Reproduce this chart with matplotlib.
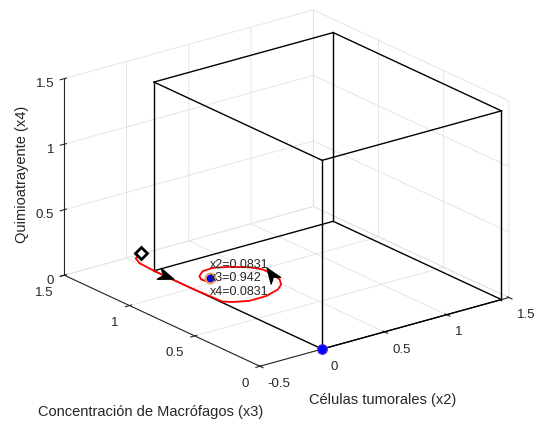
import numpy as np
import matplotlib
matplotlib.use('Agg')
import matplotlib.pyplot as plt
from matplotlib.markers import MarkerStyle
from matplotlib.path import Path
from matplotlib.transforms import Affine2D

plt.rcParams['font.family'] = ['Liberation Sans', 'DejaVu Sans']
plt.rcParams['axes.unicode_minus'] = False
plt.rcParams['grid.color'] = '#e2e2e2'
plt.rcParams['grid.linewidth'] = 0.6

# trayectoria (rojo) desde la condicion inicial hasta el equilibrio
traj_x2 = [0.0, 0.0, 0.01, 0.0, 0.0, 0.005, 0.024, 0.064, 0.121, 0.175, 0.204, 0.223,
           0.231, 0.233, 0.215, 0.175, 0.136, 0.100, 0.071, 0.060, 0.062, 0.0831]
traj_x3 = [1.39, 1.43, 1.41, 1.29, 1.0, 0.77, 0.71, 0.62, 0.544, 0.506, 0.509, 0.539,
           0.599, 0.677, 0.762, 0.878, 0.968, 1.011, 1.009, 0.986, 0.950, 0.942]
traj_x4 = [0.09, 0.03, 0.0, 0.0, 0.0, 0.005, 0.024, 0.064, 0.121, 0.175, 0.204, 0.223,
           0.231, 0.233, 0.215, 0.175, 0.136, 0.100, 0.071, 0.060, 0.062, 0.0831]

# caja (lineas negras)
cubo_x2 = [0.0, 1.44]
cubo_x3 = [0.0, 1.29]
cubo_x4 = [0.0, 1.44]

# puntos de equilibrio
eq_x2 = [0.0, 0.0831]
eq_x3 = [0.0, 0.942]
eq_x4 = [0.0, 0.0831]

# flechas de direccion
flecha_x2 = [0.0, 0.23]
flecha_x3 = [1.2, 0.61]
flecha_x4 = [0.0, 0.23]
flecha_ang = [-20, 125]

xticks = [-0.5, 0, 0.5, 1, 1.5]
yticks = [0, 0.5, 1, 1.5]
zticks = [0, 0.5, 1, 1.5]

fig = plt.figure(figsize=(5.38, 4.26), dpi=100)
ax = fig.add_axes([0.022, 0.045, 1.0, 1.0], projection='3d', proj_type='ortho',
                  computed_zorder=False)
ax.view_init(elev=21, azim=-127.6)
ax.set_box_aspect((1, 1.02, 0.67), zoom=1.13)

ax.set_xlim(-0.5, 1.5)
ax.set_ylim(0, 1.5)
ax.set_zlim(0, 1.5)

# aristas de la caja
for a in cubo_x3:
    for b in cubo_x4:
        ax.plot(cubo_x2, [a, a], [b, b], color='black', lw=1.0, zorder=1, clip_on=False)
for a in cubo_x2:
    for b in cubo_x4:
        ax.plot([a, a], cubo_x3, [b, b], color='black', lw=1.0, zorder=1, clip_on=False)
for a in cubo_x2:
    for b in cubo_x3:
        ax.plot([a, a], [b, b], cubo_x4, color='black', lw=1.0, zorder=1, clip_on=False)

ax.plot(traj_x2, traj_x3, traj_x4, color='red', lw=1.3, zorder=2)
ax.plot(traj_x2[:1], traj_x3[:1], traj_x4[:1], marker='D', ms=6, mfc='white',
        mec='black', mew=2, ls='none', zorder=3)

head = Path([(1, 0), (-1, 0.75), (-0.4, 0), (-1, -0.75), (1, 0)],
            [Path.MOVETO, Path.LINETO, Path.LINETO, Path.LINETO, Path.CLOSEPOLY])
for i in range(len(flecha_x2)):
    m = MarkerStyle(head, transform=Affine2D().rotate_deg(flecha_ang[i]))
    ax.plot([flecha_x2[i]], [flecha_x3[i]], [flecha_x4[i]], marker=m, ms=11,
            color='black', ls='none', zorder=3)

ax.plot(eq_x2[:1], eq_x3[:1], eq_x4[:1], 'o', ms=7, mfc='blue', mec='#5a2bd0',
        mew=0.8, zorder=3, clip_on=False)
ax.plot(eq_x2[1:], eq_x3[1:], eq_x4[1:], 'o', ms=7, mfc='blue', mec='#e9a060',
        mew=1.5, zorder=3)
ax.text(eq_x2[1], eq_x3[1], eq_x4[1],
        'x2=%.4f\nx3=%.3f\nx4=%.4f' % (eq_x2[1], eq_x3[1], eq_x4[1]),
        ha='left', va='center', fontsize=9, color='#262626', zorder=4,
        linespacing=1.15)

ax.set_xticks(xticks)
ax.set_yticks(yticks)
ax.set_zticks(zticks)
ax.set_xticklabels(['%g' % t for t in xticks], ha='left')
ax.set_yticklabels(['%g' % t for t in yticks], ha='right')
ax.set_zticklabels(['%g' % t for t in zticks], ha='right')
ax.tick_params(labelsize=9.5, colors='#262626')
ax.xaxis.set_tick_params(pad=-1.5)
ax.yaxis.set_tick_params(pad=-1.2)
ax.zaxis.set_tick_params(pad=-4.4)

for axis in (ax.xaxis, ax.yaxis, ax.zaxis):
    axis.set_pane_color((1, 1, 1, 0))
    axis.pane.set_edgecolor((1, 1, 1, 0))
    axis.line.set_color('#262626')
    axis.line.set_linewidth(0.8)
    axis.label.set_visible(False)
    axis.offsetText.set_visible(False)

fig.text(0.712, 0.06, 'Células tumorales (x2)', ha='center', va='center',
         fontsize=10.5, color='#262626')
fig.text(0.28, 0.032, 'Concentración de Macrófagos (x3)', ha='center', va='center',
         fontsize=10.5, color='#262626')
fig.text(0.04, 0.59, 'Quimioatrayente (x4)', ha='center', va='center',
         rotation=90, fontsize=10.5, color='#262626')

fig.savefig('out.png', dpi=100)
